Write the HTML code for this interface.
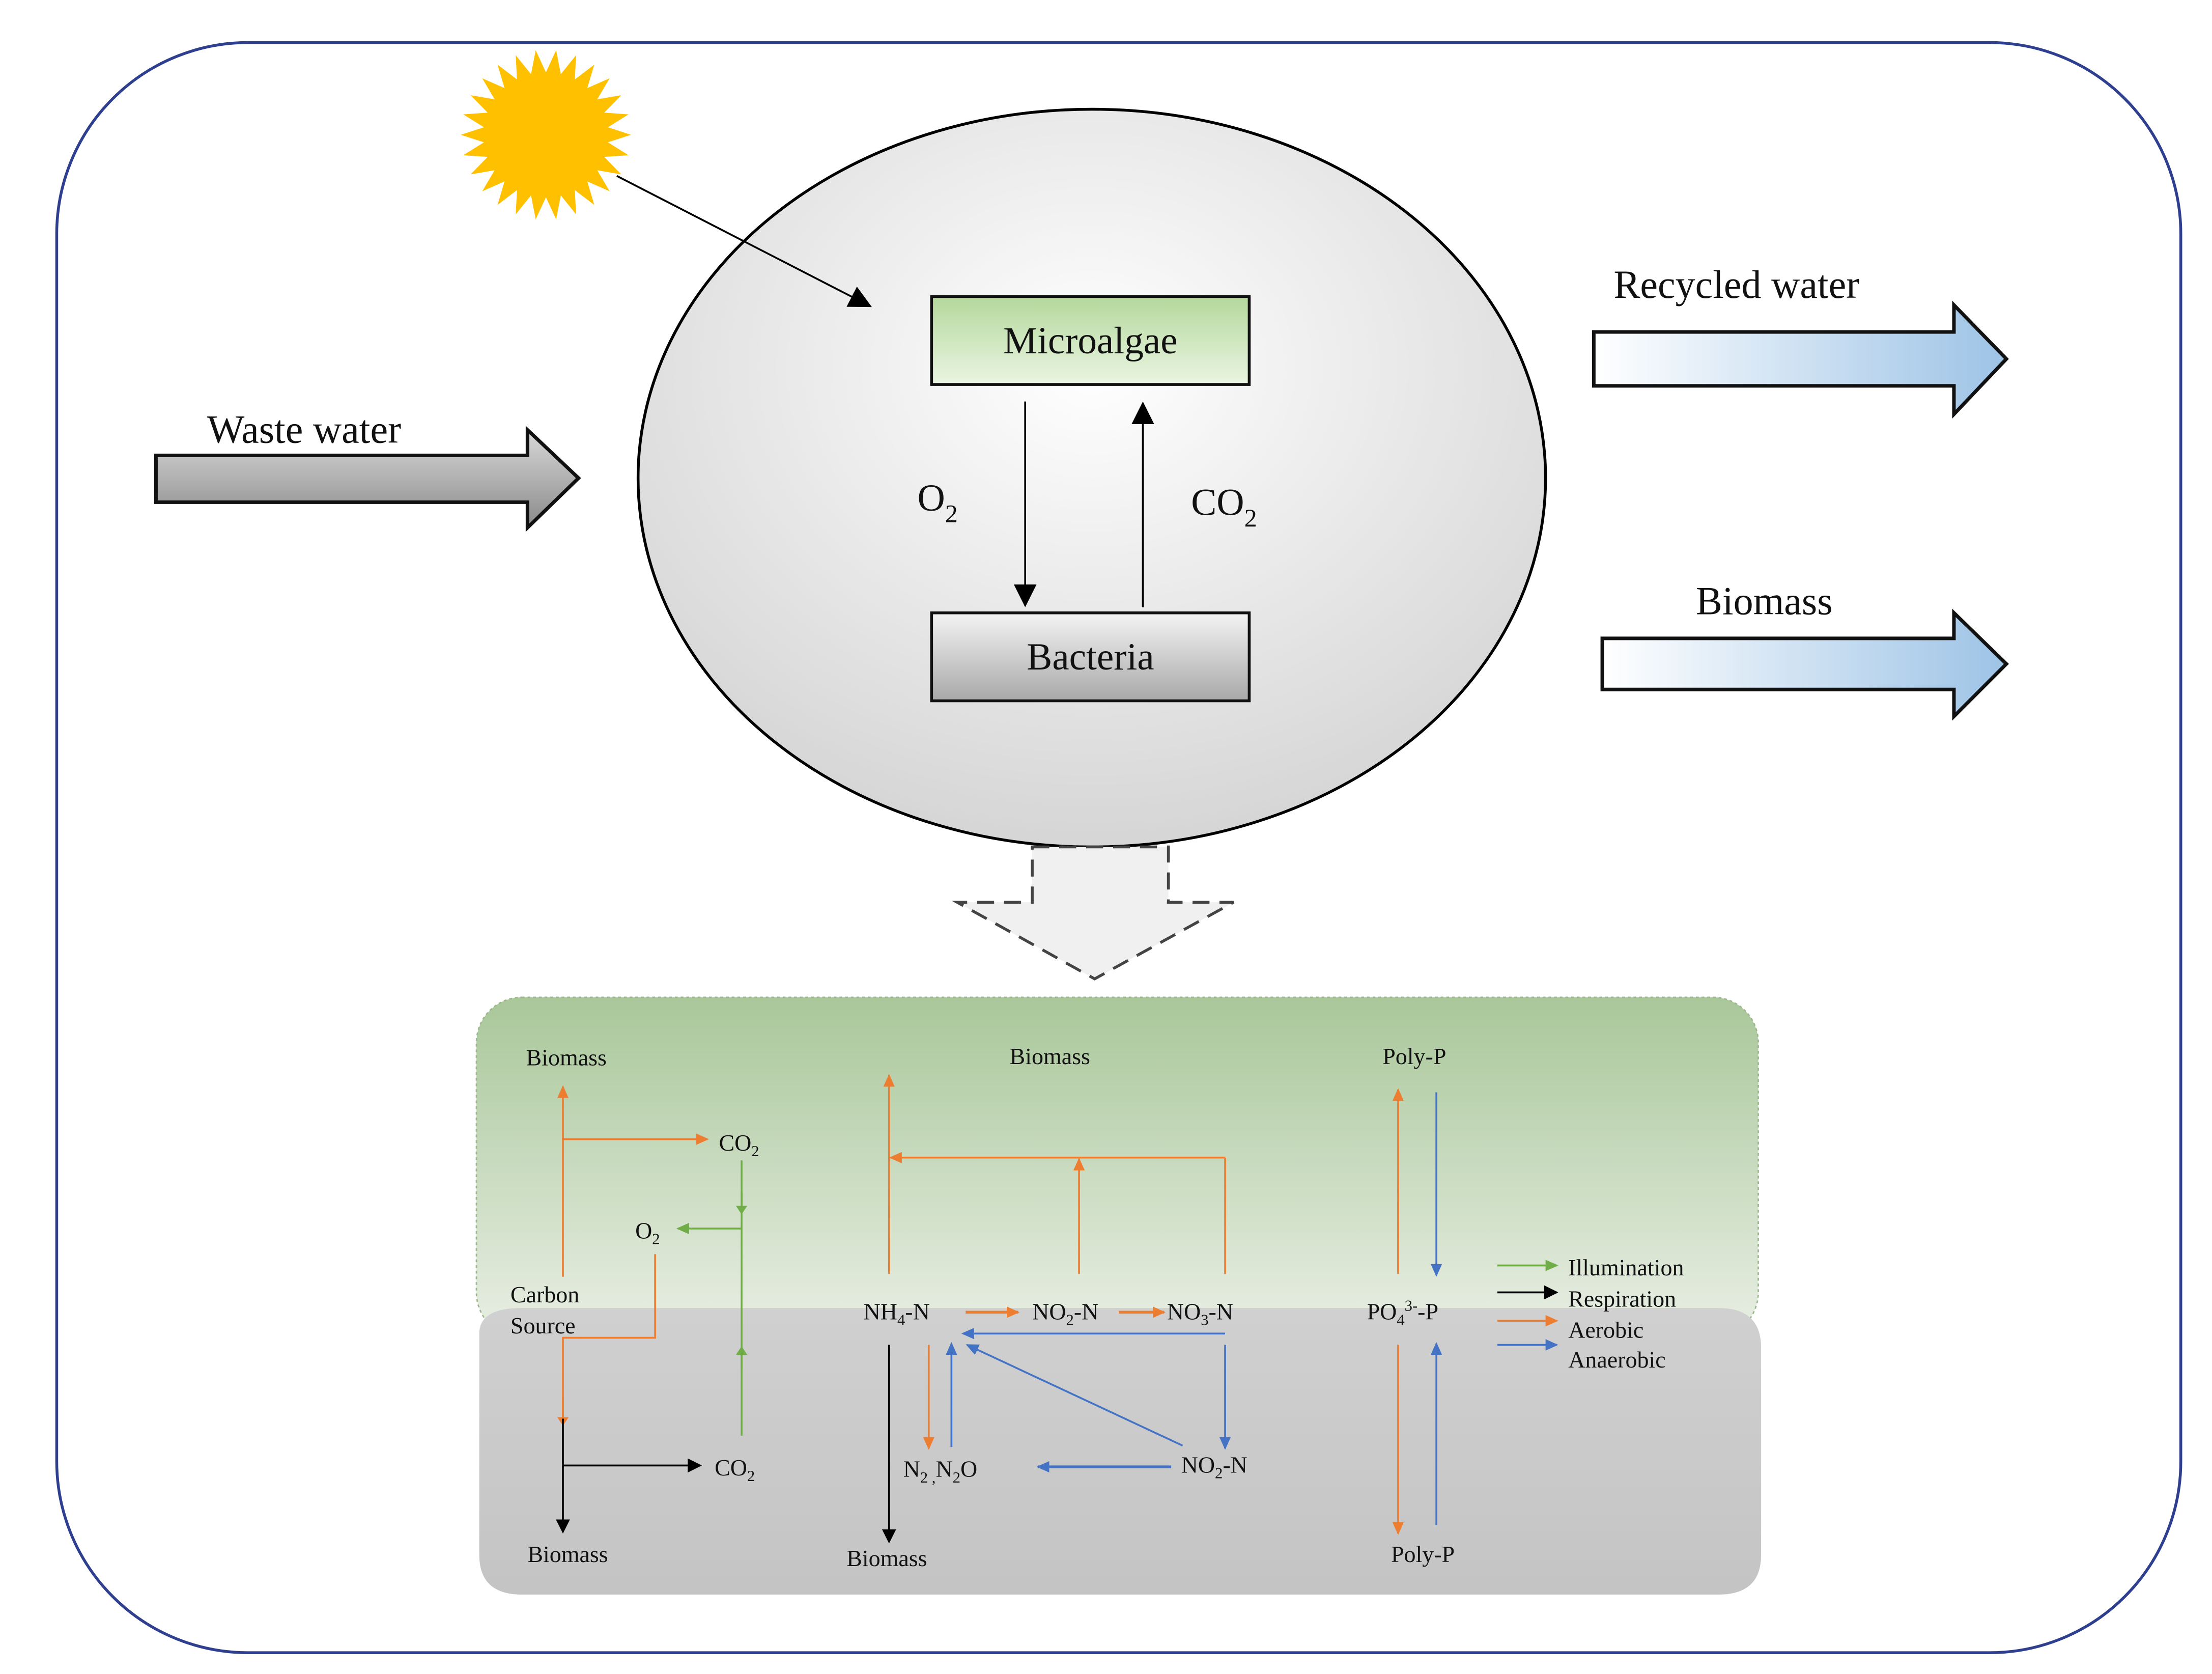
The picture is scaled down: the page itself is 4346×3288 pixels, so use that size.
<!DOCTYPE html>
<html><head><meta charset="utf-8">
<style>
html,body{margin:0;padding:0;background:#fff;}
svg{display:block;}
text{font-family:"Liberation Serif",serif;fill:#111;}
</style></head>
<body>
<svg width="4346" height="3288" viewBox="0 0 1560 1180" preserveAspectRatio="none" xmlns="http://www.w3.org/2000/svg">
<defs>
<radialGradient id="cg" cx="0.5" cy="0.35" r="0.7">
<stop offset="0" stop-color="#ffffff"/><stop offset="1" stop-color="#d2d2d2"/>
</radialGradient>
<linearGradient id="mg" x1="0" y1="0" x2="0" y2="1"><stop offset="0" stop-color="#b4d89c"/><stop offset="1" stop-color="#eaf5e2"/></linearGradient>
<linearGradient id="bg" x1="0" y1="0" x2="0" y2="1"><stop offset="0" stop-color="#f4f4f4"/><stop offset="1" stop-color="#a8a8a8"/></linearGradient>
<linearGradient id="wg" x1="0" y1="0" x2="0" y2="1"><stop offset="0" stop-color="#d8d8d8"/><stop offset="1" stop-color="#8a8a8a"/></linearGradient>
<linearGradient id="rg" x1="0" y1="0" x2="1" y2="0"><stop offset="0" stop-color="#ffffff"/><stop offset="1" stop-color="#9dc3e6"/></linearGradient>
<linearGradient id="gp" x1="0" y1="0" x2="0" y2="1"><stop offset="0" stop-color="#a9c79a"/><stop offset="1" stop-color="#e9efe5"/></linearGradient>
<linearGradient id="gy" x1="0" y1="0" x2="0" y2="1"><stop offset="0" stop-color="#d0d0d0"/><stop offset="1" stop-color="#c4c4c4"/></linearGradient>
<marker id="ak" markerWidth="10" markerHeight="10" refX="9" refY="5" orient="auto" markerUnits="userSpaceOnUse"><path d="M0,0 L10,5 L0,10 z" fill="#000"/></marker>
<marker id="akb" markerWidth="16" markerHeight="16" refX="15" refY="8" orient="auto" markerUnits="userSpaceOnUse"><path d="M0,0 L16,8 L0,16 z" fill="#000"/></marker>
<marker id="ao" markerWidth="9" markerHeight="8" refX="8" refY="4" orient="auto" markerUnits="userSpaceOnUse"><path d="M0,0 L9,4 L0,8 z" fill="#ed7d31"/></marker>
<marker id="ab" markerWidth="9" markerHeight="8" refX="8" refY="4" orient="auto" markerUnits="userSpaceOnUse"><path d="M0,0 L9,4 L0,8 z" fill="#4472c4"/></marker>
<marker id="ag" markerWidth="9" markerHeight="8" refX="8" refY="4" orient="auto" markerUnits="userSpaceOnUse"><path d="M0,0 L9,4 L0,8 z" fill="#70ad47"/></marker>
<marker id="am" markerWidth="6" markerHeight="8" refX="3" refY="4" orient="auto" markerUnits="userSpaceOnUse"><path d="M0,0 L6,4 L0,8 z" fill="#70ad47"/></marker>
<marker id="amo" markerWidth="6" markerHeight="8" refX="3" refY="4" orient="auto" markerUnits="userSpaceOnUse"><path d="M0,0 L6,4 L0,8 z" fill="#ed7d31"/></marker>
</defs>

<rect x="40" y="30" width="1498" height="1135" rx="135" ry="135" fill="#fff" stroke="#2e3f8f" stroke-width="2"/>

<polygon id="sun" fill="#ffc000" points=""/>

<ellipse cx="770" cy="337" rx="320" ry="260" fill="url(#cg)" stroke="#000" stroke-width="2"/>
<line x1="435" y1="124" x2="614" y2="216" stroke="#000" stroke-width="1.3" marker-end="url(#akb)"/>
<rect x="657" y="209" width="224" height="62" fill="url(#mg)" stroke="#111" stroke-width="2"/>
<text x="769" y="249" font-size="27" text-anchor="middle">Microalgae</text>
<rect x="657" y="432" width="224" height="62" fill="url(#bg)" stroke="#111" stroke-width="2"/>
<text x="769" y="472" font-size="27" text-anchor="middle">Bacteria</text>
<line x1="723" y1="283" x2="723" y2="427" stroke="#000" stroke-width="1.3" marker-end="url(#akb)"/>
<line x1="806" y1="428" x2="806" y2="284" stroke="#000" stroke-width="1.3" marker-end="url(#akb)"/>
<text x="647" y="360" font-size="27">O<tspan font-size="18" dy="8">2</tspan></text>
<text x="840" y="363" font-size="27">CO<tspan font-size="18" dy="8">2</tspan></text>

<text x="146" y="312" font-size="28">Waste water</text>
<polygon points="110,321 372,321 372,303 408,337 372,372 372,354 110,354" fill="url(#wg)" stroke="#111" stroke-width="2.5"/>
<text x="1138" y="210" font-size="28">Recycled water</text>
<polygon points="1124,234 1378,234 1378,215 1415,253 1378,292 1378,272 1124,272" fill="url(#rg)" stroke="#111" stroke-width="2.5"/>
<text x="1196" y="433" font-size="28">Biomass</text>
<polygon points="1130,450 1378,450 1378,432 1415,468 1378,505 1378,486 1130,486" fill="url(#rg)" stroke="#111" stroke-width="2.5"/>

<polygon points="728,597 824,597 824,636 870,636 772,690 675,636 728,636" fill="#f0f0f0" stroke="#444" stroke-width="2" stroke-dasharray="12,7"/>

<rect x="336" y="703" width="904" height="240" rx="32" fill="url(#gp)" stroke="#9ab88a" stroke-width="1" stroke-dasharray="2,2"/>
<path d="M338,940 Q338,922 368,922 L1212,922 Q1242,922 1242,950 L1242,1096 Q1242,1124 1212,1124 L368,1124 Q338,1124 338,1096 Z" fill="url(#gy)"/>

<g font-size="16.5">
<text x="371" y="751">Biomass</text>
<text x="712" y="750">Biomass</text>
<text x="975" y="750">Poly-P</text>
<text x="507" y="811">CO<tspan font-size="11" dy="4">2</tspan></text>
<text x="448" y="873">O<tspan font-size="11" dy="4">2</tspan></text>
<text x="360" y="918">Carbon</text>
<text x="360" y="940">Source</text>
<text x="504" y="1040">CO<tspan font-size="11" dy="4">2</tspan></text>
<text x="372" y="1101">Biomass</text>
<text x="597" y="1104">Biomass</text>
<text x="609" y="930">NH<tspan font-size="11" dy="4">4</tspan><tspan dy="-4">-N</tspan></text>
<text x="728" y="930">NO<tspan font-size="11" dy="4">2</tspan><tspan dy="-4">-N</tspan></text>
<text x="823" y="930">NO<tspan font-size="11" dy="4">3</tspan><tspan dy="-4">-N</tspan></text>
<text x="637" y="1041">N<tspan font-size="11" dy="4">2 ,</tspan><tspan dy="-4">N</tspan><tspan font-size="11" dy="4">2</tspan><tspan dy="-4">O</tspan></text>
<text x="833" y="1038">NO<tspan font-size="11" dy="4">2</tspan><tspan dy="-4">-N</tspan></text>
<text x="964" y="930">PO<tspan font-size="11" dy="4">4</tspan><tspan font-size="11" dy="-10">3-</tspan><tspan dy="6">-P</tspan></text>
<text x="981" y="1101">Poly-P</text>
<text x="1106" y="899">Illumination</text>
<text x="1106" y="921">Respiration</text>
<text x="1106" y="943">Aerobic</text>
<text x="1106" y="964">Anaerobic</text>
</g>

<g stroke-width="1.3" fill="none">
<line x1="397" y1="900" x2="397" y2="766" stroke="#ed7d31" marker-end="url(#ao)"/>
<line x1="397" y1="803" x2="499" y2="803" stroke="#ed7d31" marker-end="url(#ao)"/>
<line x1="523" y1="818" x2="523" y2="1012" stroke="#70ad47"/>
<line x1="523" y1="840" x2="523" y2="853" stroke="#70ad47" marker-end="url(#am)"/>
<line x1="523" y1="965" x2="523" y2="952" stroke="#70ad47" marker-end="url(#am)"/>
<line x1="523" y1="866" x2="478" y2="866" stroke="#70ad47" marker-end="url(#ag)"/>
<polyline points="462,884 462,943 397,943 397,1000" stroke="#ed7d31"/>
<line x1="397" y1="985" x2="397" y2="1002" stroke="#ed7d31" marker-end="url(#amo)"/>
<line x1="397" y1="1000" x2="397" y2="1080" stroke="#000" marker-end="url(#ak)"/>
<line x1="397" y1="1033" x2="494" y2="1033" stroke="#000" marker-end="url(#ak)"/>
<line x1="627" y1="898" x2="627" y2="758" stroke="#ed7d31" marker-end="url(#ao)"/>
<line x1="864" y1="898" x2="864" y2="816" stroke="#ed7d31"/>
<line x1="864" y1="816" x2="628" y2="816" stroke="#ed7d31" marker-end="url(#ao)"/>
<line x1="761" y1="898" x2="761" y2="817" stroke="#ed7d31" marker-end="url(#ao)"/>
<line x1="681" y1="925" x2="718" y2="925" stroke="#ed7d31" stroke-width="2" marker-end="url(#ao)"/>
<line x1="789" y1="925" x2="821" y2="925" stroke="#ed7d31" stroke-width="2" marker-end="url(#ao)"/>
<line x1="864" y1="940" x2="679" y2="940" stroke="#4472c4" marker-end="url(#ab)"/>
<line x1="627" y1="948" x2="627" y2="1087" stroke="#000" marker-end="url(#ak)"/>
<line x1="655" y1="948" x2="655" y2="1021" stroke="#ed7d31" marker-end="url(#ao)"/>
<line x1="671" y1="1020" x2="671" y2="947" stroke="#4472c4" marker-end="url(#ab)"/>
<line x1="834" y1="1019" x2="682" y2="948" stroke="#4472c4" marker-end="url(#ab)"/>
<line x1="864" y1="948" x2="864" y2="1021" stroke="#4472c4" marker-end="url(#ab)"/>
<line x1="826" y1="1034" x2="732" y2="1034" stroke="#4472c4" stroke-width="2" marker-end="url(#ab)"/>
<line x1="986" y1="898" x2="986" y2="768" stroke="#ed7d31" marker-end="url(#ao)"/>
<line x1="1013" y1="770" x2="1013" y2="899" stroke="#4472c4" marker-end="url(#ab)"/>
<line x1="986" y1="948" x2="986" y2="1081" stroke="#ed7d31" marker-end="url(#ao)"/>
<line x1="1013" y1="1075" x2="1013" y2="947" stroke="#4472c4" marker-end="url(#ab)"/>
<line x1="1056" y1="892" x2="1098" y2="892" stroke="#70ad47" marker-end="url(#ag)"/>
<line x1="1056" y1="911" x2="1098" y2="911" stroke="#000" marker-end="url(#ak)"/>
<line x1="1056" y1="931" x2="1098" y2="931" stroke="#ed7d31" marker-end="url(#ao)"/>
<line x1="1056" y1="948" x2="1098" y2="948" stroke="#4472c4" marker-end="url(#ab)"/>
</g>
</svg>
<script>
(function(){var cx=385,cy=95,n=26,p=[];for(var i=0;i<2*n;i++){var r=i%2?44:60;var a=Math.PI*i/n;p.push((cx+r*Math.cos(a)).toFixed(1)+","+(cy+r*Math.sin(a)).toFixed(1));}document.getElementById("sun").setAttribute("points",p.join(" "));})();
</script>
</body></html>
